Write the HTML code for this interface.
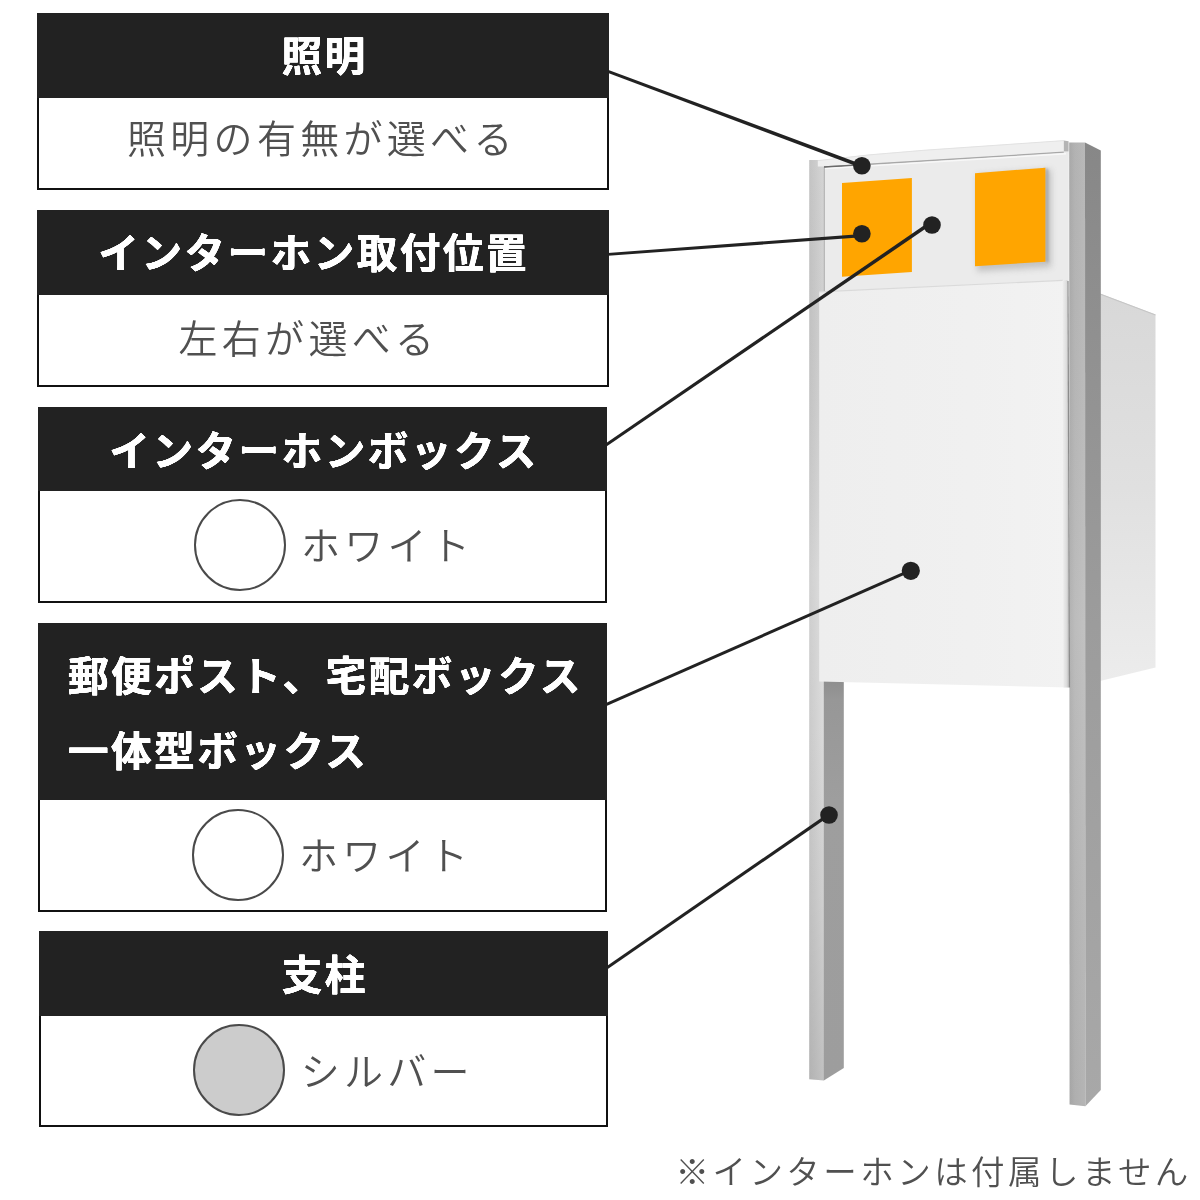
<!DOCTYPE html>
<html lang="ja">
<head>
<meta charset="utf-8">
<title>機能門柱 オプション</title>
<style>
html,body{margin:0;padding:0;background:#fff;}
body{width:1200px;height:1200px;position:relative;overflow:hidden;font-family:"Liberation Sans","Noto Sans CJK JP",sans-serif;}
#stage{position:absolute;left:0;top:0;width:1200px;height:1200px;transform:translateZ(0);will-change:transform;}
#art{position:absolute;left:0;top:0;width:1200px;height:1200px;}
.box{position:absolute;box-sizing:border-box;border:2px solid #111;}
.hd{position:absolute;background:#222;}
.ht{position:absolute;color:#fff;text-shadow:0.3px 0 0 #fff,-0.3px 0 0 #fff,0 0.3px 0 #fff,0 -0.3px 0 #fff;font-weight:700;font-size:40.6px;letter-spacing:2.5px;line-height:60px;white-space:nowrap;}
.bt{position:absolute;color:#505050;font-weight:350;font-size:39px;letter-spacing:4.3px;line-height:60px;white-space:nowrap;}
.sw{position:absolute;width:92px;height:92px;border-radius:50%;border:2px solid #4a4a4a;box-sizing:border-box;background:#fff;}
.sw.silver{background:#ccc;}
#note{position:absolute;left:675.5px;top:1146.5px;font-size:33.5px;font-weight:350;color:#505050;letter-spacing:3.45px;white-space:nowrap;line-height:52px;}
</style>
</head>
<body>
<div id="stage">
<svg id="art" viewBox="0 0 1200 1200" width="1200" height="1200">
<defs>
  <linearGradient id="gSideR" x1="0" y1="0" x2="0" y2="1">
    <stop offset="0" stop-color="#878787"/>
    <stop offset="0.2" stop-color="#909090"/>
    <stop offset="0.5" stop-color="#9c9c9c"/>
    <stop offset="1" stop-color="#a8a8a8"/>
  </linearGradient>
  <linearGradient id="gFrontR" x1="0" y1="0" x2="1" y2="0">
    <stop offset="0" stop-color="#adadad"/>
    <stop offset="0.35" stop-color="#b8b8b8"/>
    <stop offset="1" stop-color="#bebebe"/>
  </linearGradient>
  <linearGradient id="gFrontRv" x1="0" y1="0" x2="0" y2="1">
    <stop offset="0" stop-color="#000" stop-opacity="0.03"/>
    <stop offset="0.5" stop-color="#fff" stop-opacity="0.06"/>
    <stop offset="1" stop-color="#000" stop-opacity="0.05"/>
  </linearGradient>
  <linearGradient id="gLightL" x1="0" y1="0" x2="1" y2="0">
    <stop offset="0" stop-color="#c8c8c8"/>
    <stop offset="0.4" stop-color="#cfcfcf"/>
    <stop offset="1" stop-color="#dadada"/>
  </linearGradient>
  <linearGradient id="gLightLv" x1="0" y1="0" x2="0" y2="1">
    <stop offset="0" stop-color="#000" stop-opacity="0.02"/>
    <stop offset="0.45" stop-color="#fff" stop-opacity="0.14"/>
    <stop offset="0.62" stop-color="#fff" stop-opacity="0.04"/>
    <stop offset="0.8" stop-color="#000" stop-opacity="0.04"/>
    <stop offset="1" stop-color="#000" stop-opacity="0.11"/>
  </linearGradient>
  <linearGradient id="gDarkL" x1="0" y1="0" x2="0" y2="1">
    <stop offset="0" stop-color="#8e8e8e"/>
    <stop offset="0.05" stop-color="#979797"/>
    <stop offset="0.3" stop-color="#9e9e9e"/>
    <stop offset="1" stop-color="#9d9d9d"/>
  </linearGradient>
  <linearGradient id="gBody" x1="0" y1="0" x2="0" y2="1">
    <stop offset="0" stop-color="#d8d8d8"/>
    <stop offset="0.5" stop-color="#e0e0e0"/>
    <stop offset="1" stop-color="#ececec"/>
  </linearGradient>
  <linearGradient id="gDoor" x1="0" y1="0" x2="1" y2="0">
    <stop offset="0" stop-color="#eeeeee"/>
    <stop offset="0.6" stop-color="#f0f0f0"/>
    <stop offset="1" stop-color="#f2f2f2"/>
  </linearGradient>
  <linearGradient id="gEdge" x1="0" y1="0" x2="1" y2="0">
    <stop offset="0" stop-color="#efefef"/>
    <stop offset="0.55" stop-color="#dedede"/>
    <stop offset="1" stop-color="#b8b8b8"/>
  </linearGradient>
  <filter id="blur3" x="-50%" y="-50%" width="200%" height="200%"><feGaussianBlur stdDeviation="3"/></filter>
  <filter id="blur1" x="-50%" y="-50%" width="200%" height="200%"><feGaussianBlur stdDeviation="1.2"/></filter>
  <clipPath id="cPanel"><polygon points="824.3,166 1068.8,151.5 1068.8,281 824.3,292"/></clipPath>
</defs>
<!-- mailbox side body (behind right post) -->
<polygon points="1100,293.5 1155.5,314.5 1155.5,667.5 1100,681" fill="url(#gBody)"/>
<polyline points="1100,294 1155.5,315" fill="none" stroke="#c6c6c6" stroke-width="1.2"/>
<!-- left post -->
<polygon points="809.2,160 824,160 824,1080.4 809.2,1079.2" fill="url(#gLightL)"/>
<polygon points="809.2,160 824,160 824,1080.4 809.2,1079.2" fill="url(#gLightLv)"/>
<polygon points="823.8,680 843.8,680 843.8,1067.9 823.8,1080.4" fill="url(#gDarkL)"/>
<!-- right post -->
<polygon points="1069.2,142.5 1085,142.5 1085.4,1106.2 1069.6,1104.6" fill="url(#gFrontR)"/>
<polygon points="1069.2,142.5 1085,142.5 1085.4,1106.2 1069.6,1104.6" fill="url(#gFrontRv)"/>
<polygon points="1085,142.5 1100.8,150.4 1100.8,1090 1085.4,1106.2" fill="url(#gSideR)"/>
<!-- intercom panel -->
<polygon points="824.3,166 1068.8,151.5 1068.8,281 824.3,292" fill="#ebebeb"/>
<g clip-path="url(#cPanel)">
  <polygon points="977,175 1051,169.5 1051,267 977,271.5" fill="#8a8a8a" opacity="0.42" filter="url(#blur3)"/>
  <polygon points="1045.4,168 1048.5,169.5 1048.5,262.5 1045.4,261.7" fill="#a4a4a4" opacity="0.8" filter="url(#blur1)"/>
</g>
<polyline points="824.3,292 824.3,166.3" fill="none" stroke="#aaa" stroke-width="1"/>
<!-- top cap -->
<polygon points="817.8,160.4 870,154.6 925,150 1063.8,140.4 1063.8,151.6 824,166.6 817.8,166.6" fill="#efefef"/>
<polyline points="817.8,160.6 870,154.8 925,150.2 1063.8,140.6" fill="none" stroke="#e2e2e2" stroke-width="1"/>
<polygon points="1063.8,140.4 1068.6,141.2 1068.6,151.4 1063.8,151.6" fill="#b4b4b4"/>
<polyline points="824,167 1063.8,152.2" fill="none" stroke="#a8a8a8" stroke-width="1.3"/>
<polyline points="824,167 860,164.8" fill="none" stroke="#6a6a6a" stroke-width="1.3"/>
<polyline points="825,168.6 1066,153.8" fill="none" stroke="#f8f8f8" stroke-width="1.4"/>
<!-- orange plates -->
<polygon points="842,182.9 911.9,178 911.9,272 842,276.7" fill="#ffa500"/>
<polygon points="975,173.2 1045.4,167.7 1045.4,261.7 975,266.3" fill="#ffa500"/>
<!-- mailbox door -->
<polygon points="819.2,291.7 1067.5,280 1069.4,687.6 819.2,681.6" fill="url(#gDoor)"/>
<polyline points="819.2,291.9 1063,280.4" fill="none" stroke="#dadada" stroke-width="1.2"/>
<polygon points="1062.5,280.3 1067.5,280 1069.4,687.6 1063.5,687.4" fill="url(#gEdge)"/>
<polyline points="1068,281 1069.5,687.6" fill="none" stroke="#8c8c8c" stroke-width="1.2"/>
<!-- leader lines -->
<g fill="#222">
  <polygon points="607.49,72.76 861.27,167.89 862.53,164.51 608.51,70.04"/>
  <polygon points="608.10,255.80 862.03,237.30 861.77,233.90 607.90,253.00"/>
  <polygon points="606.82,446.20 931.02,225.09 928.98,222.11 605.18,443.80"/>
  <polygon points="606.59,706.03 911.43,571.72 910.17,568.88 605.41,703.37"/>
  <polygon points="607.82,968.89 829.88,815.88 828.12,813.32 606.18,966.51"/>
</g>
<g fill="#222">
  <circle cx="861.9" cy="165.8" r="8.8"/>
  <circle cx="861.9" cy="233.8" r="8.8"/>
  <circle cx="932" cy="225" r="8.8"/>
  <circle cx="910.8" cy="570.8" r="9.1"/>
  <circle cx="829" cy="815" r="8.8"/>
</g>
</svg>

<div class="box" style="left:37px;width:572px;top:13px;height:177px;"></div>
<div class="hd" style="left:37px;width:572px;top:13px;height:85px;"></div>
<div class="ht" id="h1" style="left:281.5px;top:26.5px;">照明</div>
<div class="bt" id="b1" style="left:127px;top:110px;">照明の有無が選べる</div>

<div class="box" style="left:37px;width:572px;top:210px;height:177px;"></div>
<div class="hd" style="left:37px;width:572px;top:210px;height:85px;"></div>
<div class="ht" id="h2" style="left:98.3px;top:224.3px;">インターホン取付位置</div>
<div class="bt" id="b2" style="left:178.5px;top:309.5px;">左右が選べる</div>

<div class="box" style="left:38px;width:569px;top:407px;height:196px;"></div>
<div class="hd" style="left:38px;width:569px;top:407px;height:84px;"></div>
<div class="ht" id="h3" style="left:109.3px;top:422px;">インターホンボックス</div>
<span class="sw" style="left:193.5px;top:498.5px;"></span>
<div class="bt" id="b3" style="left:301px;top:516.5px;">ホワイト</div>

<div class="box" style="left:38px;width:569px;top:623px;height:289px;"></div>
<div class="hd" style="left:38px;width:569px;top:623px;height:177px;"></div>
<div class="ht" id="h4a" style="left:68px;top:647px;">郵便ポスト、宅配ボックス</div>
<div class="ht" id="h4b" style="left:68px;top:721.5px;">一体型ボックス</div>
<span class="sw" style="left:192px;top:808.5px;"></span>
<div class="bt" id="b4" style="left:299px;top:827px;">ホワイト</div>

<div class="box" style="left:39px;width:569px;top:931px;height:196px;"></div>
<div class="hd" style="left:39px;width:569px;top:931px;height:85px;"></div>
<div class="ht" id="h5" style="left:281.7px;top:946px;">支柱</div>
<span class="sw silver" style="left:193px;top:1023.5px;"></span>
<div class="bt" id="b5" style="left:300.7px;top:1043px;">シルバー</div>

<div id="note">※インターホンは付属しません</div>
</div>
</body>
</html>
